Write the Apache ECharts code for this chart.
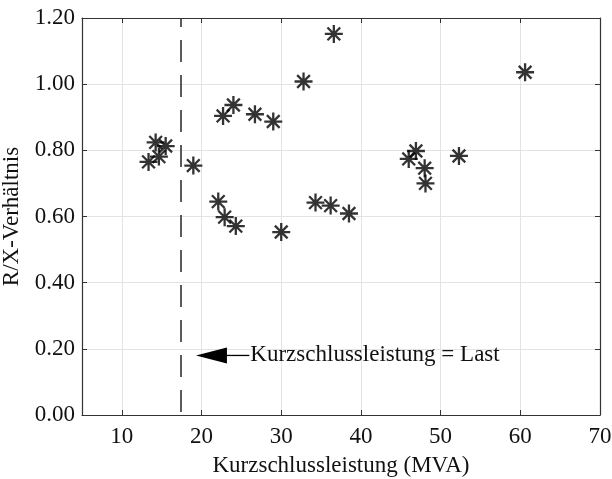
<!DOCTYPE html>
<html>
<head>
<meta charset="utf-8">
<script src="https://cdn.jsdelivr.net/npm/echarts@6/dist/echarts.min.js"></script>
<style>html,body{margin:0;padding:0;background:#fff;}#c{width:612px;height:479px;}</style>
</head>
<body>
<div id="c"></div>
<script>
// Data
var xValues = [13.35, 14.24, 15.5, 14.65, 18.97, 22.7, 24.0, 22.1, 22.9, 24.3, 30.0, 34.3, 36.2, 38.5, 26.7, 29.0, 32.8, 36.6, 46.0, 46.9, 48.0, 48.1, 52.3, 60.6];
var yValues = [0.765, 0.824, 0.813, 0.781, 0.754, 0.904, 0.937, 0.645, 0.598, 0.571, 0.553, 0.642, 0.633, 0.609, 0.909, 0.887, 1.008, 1.152, 0.774, 0.798, 0.746, 0.700, 0.783, 1.036];
var xTicks = [10, 20, 30, 40, 50, 60, 70];
var yTicks = [0, 0.2, 0.4, 0.6, 0.8, 1.0, 1.2];
var loadLineX = 17.4;
var arrowTip = [19.3, 0.18];
var arrowTextStart = [26.0, 0.18];
var annotationText = 'Kurzschlussleistung = Last';
var xName = 'Kurzschlussleistung (MVA)';
var yName = 'R/X-Verhältnis';

var FONT = 'Liberation Serif';
var FS = 23;
var TXT = '#111';
var AX = '#333';

var points = xValues.map(function (x, i) { return [x, yValues[i]]; });

var chart = echarts.init(document.getElementById('c'), null, { renderer: 'canvas' });
var option = {
  animation: false,
  backgroundColor: '#fff',
  textStyle: { fontFamily: FONT },
  grid: { left: 82, right: 12, top: 18, bottom: 64, containLabel: false, outerBoundsMode: 'none' },
  xAxis: [{
    type: 'value', min: 5, max: 70, interval: 5,
    name: xName, nameLocation: 'middle', nameGap: 39,
    nameTextStyle: { fontFamily: FONT, fontSize: FS, color: TXT },
    axisLine: { show: true, onZero: false, lineStyle: { color: AX, width: 1.2 } },
    axisTick: { show: true, inside: true, length: 5, customValues: xTicks, lineStyle: { color: AX } },
    axisLabel: { show: true, margin: 10, fontFamily: FONT, fontSize: FS, color: TXT, customValues: xTicks },
    splitLine: { show: true, lineStyle: { color: '#e3e3e3', width: 1 } }
  }, {
    type: 'value', min: 5, max: 70, interval: 5, position: 'top',
    axisLine: { show: true, onZero: false, lineStyle: { color: AX, width: 1.2 } },
    axisTick: { show: true, inside: true, length: 5, customValues: xTicks, lineStyle: { color: AX } },
    axisLabel: { show: false },
    splitLine: { show: false }
  }],
  yAxis: [{
    type: 'value', min: 0, max: 1.2, interval: 0.2,
    name: yName, nameLocation: 'middle', nameGap: 54, nameRotate: 90,
    nameTextStyle: { fontFamily: FONT, fontSize: FS, color: TXT },
    axisLine: { show: true, onZero: false, lineStyle: { color: AX, width: 1.2 } },
    axisTick: { show: true, inside: true, length: 5, lineStyle: { color: AX } },
    axisLabel: { show: true, margin: 7, fontFamily: FONT, fontSize: FS, color: TXT,
      formatter: function (v) { return v.toFixed(2); } },
    splitLine: { show: true, lineStyle: { color: '#e3e3e3', width: 1 } }
  }, {
    type: 'value', min: 0, max: 1.2, interval: 0.2, position: 'right',
    axisLine: { show: true, onZero: false, lineStyle: { color: AX, width: 1.2 } },
    axisTick: { show: true, inside: true, length: 5, lineStyle: { color: AX } },
    axisLabel: { show: false },
    splitLine: { show: false }
  }],
  series: [{
    type: 'scatter',
    xAxisIndex: 0, yAxisIndex: 0,
    data: points,
    symbol: 'path://M0 -10 L0 10 M-10 0 L10 0 M-7.07 -7.07 L7.07 7.07 M-7.07 7.07 L7.07 -7.07',
    symbolSize: 18,
    itemStyle: { color: '#000', borderColor: '#000', borderWidth: 2.3 },
    emphasis: { disabled: true },
    markLine: {
      silent: true,
      symbol: ['none', 'none'],
      label: { show: false },
      lineStyle: { color: '#333', width: 1.6, type: [22, 13], dashOffset: 32 },
      data: [{ xAxis: loadLineX }]
    }
  }]
};
chart.setOption(option);

function drawAnnotation() {
  var tip = chart.convertToPixel({ xAxisIndex: 0, yAxisIndex: 0 }, arrowTip);
  var start = chart.convertToPixel({ xAxisIndex: 0, yAxisIndex: 0 }, arrowTextStart);
  var headLen = 31, headHalf = 8;
  chart.setOption({
    graphic: [
      { type: 'line', shape: { x1: tip[0] + headLen - 1, y1: tip[1], x2: start[0], y2: start[1] },
        style: { stroke: '#000', lineWidth: 1.3 }, silent: true },
      { type: 'polygon', shape: { points: [[tip[0], tip[1]], [tip[0] + headLen, tip[1] - headHalf], [tip[0] + headLen, tip[1] + headHalf]] },
        style: { fill: '#000' }, silent: true },
      { type: 'text', x: start[0] + 1, y: start[1],
        style: { text: annotationText, font: FS + 'px "' + FONT + '"', fill: TXT, textVerticalAlign: 'middle', verticalAlign: 'middle' },
        silent: true }
    ]
  });
}
drawAnnotation();
</script>
</body>
</html>
